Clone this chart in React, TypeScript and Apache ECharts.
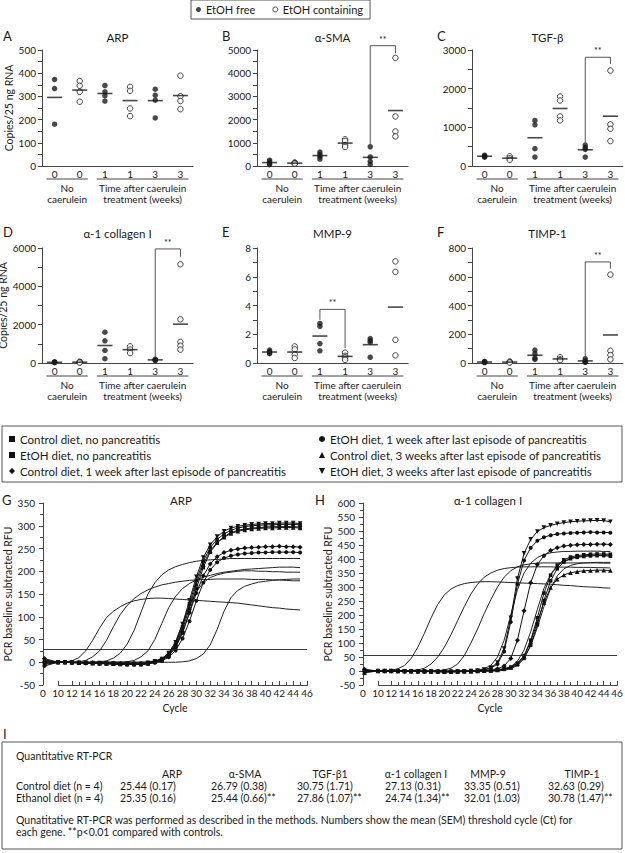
import React, { useEffect, useRef } from 'react';
import * as echarts from 'echarts';

const FONT = 'Lato, "Noto Sans", "DejaVu Sans", sans-serif';
const INK = '#1a1a1a';
const AXIS = '#444';

// ---------- Panels A–F (scatter of copies / 25 ng RNA) ----------
const WEEK_LABELS = ['0', '0', '1', '1', '3', '3'];
const PANEL_LETTERS = ['A', 'B', 'C', 'D', 'E', 'F'];
const PANEL_TITLES = ['ARP', 'α-SMA', 'TGF-β', 'α-1 collagen I', 'MMP-9', 'TIMP-1'];
const PANEL_MAX = [500, 5000, 3000, 6000, 8, 800];
const PANEL_STEP = [100, 1000, 1000, 2000, 2, 200];
const GROUP_SPANS: [number, number, string, string][] = [
  [0, 1, 'No', 'caerulein'],
  [2, 5, 'Time after caerulein', 'treatment (weeks)'],
];

// values per week group (0, 1, 3 weeks)
const ARP_FREE = [[373, 334, 180], [347, 320, 303, 280], [331, 305, 284, 207]];
const ARP_ETOH = [[366, 346, 320, 277], [341, 324, 248, 215], [389, 301, 280, 245]];
const SMA_FREE = [[250, 180, 100, 60], [600, 500, 400, 300], [830, 390, 200, 70]];
const SMA_ETOH = [[150, 130, 110, 100], [1150, 1080, 900, 820], [4660, 2135, 1490, 1275]];
const TGF_FREE = [[280, 260, 240, 230], [1178, 1066, 447, 232], [540, 480, 430, 230]];
const TGF_ETOH = [[250, 200, 160], [1797, 1694, 1281, 1178], [2468, 1075, 963, 645]];
const COL_FREE = [[60, 40, 30, 20], [1609, 1159, 657, 225], [200, 170, 150, 130]];
const COL_ETOH = [[70, 40, 20], [870, 700, 520], [5150, 2280, 1100, 900, 700]];
const MMP_FREE = [[0.9, 0.8, 0.7, 0.65], [2.75, 2.55, 1.35, 0.85], [1.7, 1.55, 1.45, 0.4]];
const MMP_ETOH = [[1.15, 0.95, 0.6, 0.35], [0.72, 0.5, 0.4, 0.22], [7.07, 6.34, 1.61, 0.53]];
const TIMP_FREE = [[12, 8, 5, 3], [90, 65, 35, 25], [30, 15, 8, 5]];
const TIMP_ETOH = [[10, 6, 3], [40, 25, 20], [615, 85, 55, 25]];

const PANEL_FREE = [ARP_FREE, SMA_FREE, TGF_FREE, COL_FREE, MMP_FREE, TIMP_FREE];
const PANEL_ETOH = [ARP_ETOH, SMA_ETOH, TGF_ETOH, COL_ETOH, MMP_ETOH, TIMP_ETOH];

// significance brackets: [fromCat, toCat, top, leftFoot, rightFoot]
const BRACKETS: (number[] | null)[] = [
  null,
  [4, 5, 5186, 890, 4860],
  [4, 5, 2812, 576, 2640],
  [4, 5, 5952, 260, 5536],
  [2, 3, 3.73, 3.0, 1.04],
  [4, 5, 703, 46, 657],
];

// ---------- Panels G, H (real-time PCR curves) ----------
const CYCLES = [1, 10, 11, 12, 13, 14, 15, 16, 17, 18, 19, 20, 21, 22, 23, 24, 25, 26, 27, 28, 29, 30, 31, 32, 33, 34, 35, 36, 37, 38, 39, 40, 41, 42, 43, 44, 45];

const GROUP_NAMES = [
  'Control diet, no pancreatitis',
  'EtOH diet, no pancreatitis',
  'Control diet, 1 week after last episode of pancreatitis',
  'EtOH diet, 1 week after last episode of pancreatitis',
  'Control diet, 3 weeks after last episode of pancreatitis',
  'EtOH diet, 3 weeks after last episode of pancreatitis',
];
const GROUP_SYMBOLS = ['rect', 'rect', 'diamond', 'circle', 'triangle', 'triangle'];
const GROUP_ROTATE = [0, 0, 0, 0, 0, 180];
const GROUP_SIZE = [3.6, 3.6, 5, 4, 4.6, 4.6];
const GROUP_ICONS = ['rect', 'rect', 'diamond', 'circle', 'triangle', 'path://M0,0L10,0L5,10Z'];

const G_CTRL_NONE = [5, 0, 0, 0, -1, -1, -2, -2, -3, -3, -4, -4, -4, -4, -2, 1, 6, 18, 40, 78, 128, 180, 222, 252, 270, 282, 290, 295, 298, 300, 301, 302, 302, 303, 303, 303, 302];
const G_ETOH_NONE = [-5, 0, 0, -1, -1, -2, -2, -3, -3, -4, -5, -5, -5, -5, -3, 0, 4, 14, 32, 64, 110, 162, 208, 242, 262, 276, 285, 290, 293, 295, 296, 297, 298, 298, 298, 298, 297];
const G_CTRL_1WK = [8, 0, 0, 0, -1, -1, -1, -2, -2, -3, -3, -3, -3, -3, -1, 2, 7, 17, 36, 66, 108, 152, 190, 216, 232, 241, 246, 249, 251, 252, 253, 254, 254, 255, 254, 254, 253];
const G_ETOH_1WK = [-8, 0, 0, -1, -1, -2, -2, -3, -3, -4, -4, -5, -5, -5, -4, -1, 3, 11, 26, 52, 90, 135, 175, 203, 220, 229, 234, 237, 239, 240, 241, 241, 242, 242, 242, 242, 241];
const G_CTRL_3WK = [3, 0, 0, 0, -1, -1, -2, -2, -2, -3, -3, -4, -4, -4, -2, 1, 5, 16, 37, 72, 120, 172, 215, 245, 263, 275, 283, 288, 291, 293, 294, 295, 295, 296, 296, 296, 295];
const G_ETOH_3WK = [-3, 0, 0, -1, -1, -1, -2, -2, -3, -3, -4, -4, -4, -4, -1, 2, 7, 20, 44, 84, 136, 188, 230, 258, 276, 288, 295, 299, 301, 303, 304, 305, 305, 306, 306, 306, 305];

const G_STD1 = [0, 0, 1, 3, 10, 25, 48, 75, 98, 112, 122, 130, 135, 138, 140, 141, 141, 140, 139, 138, 137, 136, 135, 134, 133, 132, 131, 130, 128, 126, 124, 122, 120, 119, 117, 116, 115];
const G_STD2 = [0, 0, 0, 0, 1, 4, 12, 25, 48, 78, 105, 125, 140, 151, 159, 165, 170, 173, 176, 178, 180, 181, 182, 182, 183, 183, 183, 183, 183, 182, 182, 182, 181, 181, 180, 179, 179];
const G_STD3 = [0, 0, 0, 0, 0, 0, 0, 1, 3, 9, 20, 40, 70, 110, 150, 175, 192, 203, 210, 215, 219, 222, 224, 225, 226, 227, 228, 228, 228, 228, 228, 228, 228, 228, 228, 228, 228];
const G_STD4 = [0, 0, 0, 0, 0, 0, 0, 0, 0, 0, 0, 1, 4, 12, 25, 50, 85, 120, 145, 162, 173, 181, 187, 191, 195, 198, 200, 202, 204, 205, 206, 207, 208, 209, 209, 209, 208];
const G_STD5 = [0, 0, 0, 0, 0, 0, 0, 0, 0, 0, 0, 0, 0, 0, 1, 3, 8, 20, 45, 85, 125, 155, 175, 186, 192, 196, 198, 200, 201, 201, 200, 200, 199, 199, 198, 198, 198];
const G_STD6 = [0, 0, 0, 0, 0, 0, 0, 0, 0, 0, 0, 0, 0, 0, 0, 0, 0, 0, 0, 1, 3, 8, 18, 38, 72, 112, 142, 158, 167, 172, 176, 178, 180, 181, 182, 183, 183];

const H_CTRL_NONE = [2, 0, 0, 0, 0, 0, -1, -1, -1, -1, -2, -2, -2, -2, -1, -1, 0, 1, 2, 4, 8, 14, 28, 55, 110, 190, 278, 342, 378, 397, 407, 412, 415, 417, 418, 418, 417];
const H_ETOH_NONE = [-4, 0, 0, 0, -1, -1, -1, -2, -2, -2, -2, -3, -3, -3, -2, -2, -1, 0, 1, 3, 6, 11, 22, 45, 92, 165, 252, 322, 365, 389, 401, 406, 409, 411, 412, 412, 410];
const H_CTRL_1WK = [6, 0, 0, 0, 0, -1, -1, -1, -2, -2, -2, -2, -2, -1, -1, 0, 1, 2, 4, 8, 18, 45, 110, 215, 315, 380, 412, 430, 440, 446, 449, 451, 452, 452, 453, 453, 452];
const H_ETOH_1WK = [4, 0, 0, 0, -1, -1, -1, -2, -2, -2, -2, -3, -3, -2, -1, 0, 1, 4, 10, 25, 70, 175, 310, 395, 440, 465, 478, 485, 489, 491, 493, 494, 495, 496, 495, 495, 494];
const H_CTRL_3WK = [-6, 0, 0, 0, 0, -1, -1, -1, -1, -2, -2, -2, -2, -2, -1, -1, 0, 1, 2, 4, 8, 14, 26, 52, 105, 175, 245, 298, 328, 343, 351, 355, 358, 359, 360, 360, 359];
const H_ETOH_3WK = [-3, 0, 0, 0, -1, -1, -1, -2, -2, -2, -3, -3, -3, -2, -2, 0, 2, 5, 12, 30, 80, 190, 330, 420, 470, 498, 512, 520, 526, 530, 533, 535, 536, 537, 538, 537, 533];

const H_STD1 = [0, 0, 1, 3, 8, 20, 45, 85, 135, 190, 238, 272, 293, 305, 312, 316, 318, 319, 319, 318, 317, 316, 315, 314, 313, 312, 311, 310, 308, 306, 305, 303, 301, 300, 299, 297, 296];
const H_STD2 = [0, 0, 0, 0, 0, 0, 1, 4, 10, 25, 50, 85, 130, 180, 230, 275, 310, 335, 350, 360, 366, 369, 371, 372, 372, 372, 372, 372, 371, 371, 371, 370, 370, 370, 369, 369, 368];
const H_STD3 = [0, 0, 0, 0, 0, 0, 0, 0, 0, 0, 1, 4, 10, 25, 55, 100, 150, 205, 255, 300, 335, 358, 372, 379, 383, 385, 386, 386, 386, 386, 386, 386, 386, 386, 386, 385, 385];
const H_STD4 = [0, 0, 0, 0, 0, 0, 0, 0, 0, 0, 0, 0, 0, 0, 0, 1, 3, 8, 20, 50, 110, 200, 290, 350, 385, 405, 416, 422, 425, 427, 427, 428, 428, 428, 428, 427, 427];
const H_STD5 = [0, 0, 0, 0, 0, 0, 0, 0, 0, 0, 0, 0, 0, 0, 0, 0, 0, 0, 0, 2, 6, 15, 35, 75, 140, 220, 295, 345, 375, 392, 402, 408, 411, 413, 414, 414, 414];
const H_STD6 = [0, 0, 0, 0, 0, 0, 0, 0, 0, 0, 0, 0, 0, 0, 0, 0, 0, 0, 0, 0, 3, 8, 20, 45, 90, 155, 230, 295, 340, 365, 377, 383, 386, 387, 388, 388, 388];

const G_MARKED = [G_CTRL_NONE, G_ETOH_NONE, G_CTRL_1WK, G_ETOH_1WK, G_CTRL_3WK, G_ETOH_3WK];
const G_PLAIN = [G_STD1, G_STD2, G_STD3, G_STD4, G_STD5, G_STD6];
const H_MARKED = [H_CTRL_NONE, H_ETOH_NONE, H_CTRL_1WK, H_ETOH_1WK, H_CTRL_3WK, H_ETOH_3WK];
const H_PLAIN = [H_STD1, H_STD2, H_STD3, H_STD4, H_STD5, H_STD6];
const THRESHOLD = [28, 55];
const PCR_TITLES = ['ARP', 'α-1 collagen I'];
const PCR_LETTERS = ['G', 'H'];
const PCR_YMAX = [350, 600];

// ---------- Table I ----------
const GENES = ['ARP', 'α-SMA', 'TGF-β1', 'α-1 collagen I', 'MMP-9', 'TIMP-1'];
const CONTROL_CT = [25.44, 26.79, 30.75, 27.13, 33.35, 32.63];
const CONTROL_SEM = [0.17, 0.38, 1.71, 0.31, 0.51, 0.29];
const ETHANOL_CT = [25.35, 25.44, 27.86, 24.74, 32.01, 30.78];
const ETHANOL_SEM = [0.16, 0.66, 1.07, 1.34, 1.03, 1.47];
const ETHANOL_SIG = [false, true, true, true, false, true];

// ---------- layout ----------
const COL_LEFT = [42, 257, 472];
const ROW_TOP = [50, 248];
const ROW_H = [116, 115];
const PANEL_W = 151;
const LETTER_X = [3, 222, 437];
const TITLE_Y = [37, 233];
const PCR_GRID = [
  { left: 43, top: 503, width: 264, height: 182 },
  { left: 363, top: 503, width: 254, height: 182 },
];
const PCR_GAP = ['5.7%', '5.9%'];
const TABLE_VAL_X = [120, 211, 297, 385, 464, 548];
const TABLE_HEAD_X = [172, 245, 330, 416, 488, 582];

const mean = (a: number[]) => a.reduce((s, v) => s + v, 0) / a.length;
const plain = (v: number) => String(v);

function bracketRender(_params: any, api: any) {
  const x1 = api.value(0), x2 = api.value(1);
  const yt = api.value(2), yl = api.value(3), yr = api.value(4);
  const a = api.coord([x1, yl]);
  const b = api.coord([x1, yt]);
  const c = api.coord([x2, yt]);
  const d = api.coord([x2, yr]);
  return {
    type: 'group',
    children: [
      { type: 'polyline', shape: { points: [a, b, c, d] }, style: { stroke: '#555', lineWidth: 1, fill: null } },
      {
        type: 'text', x: (b[0] + c[0]) / 2, y: b[1] - 2,
        style: { text: '**', font: `9px ${FONT}`, fill: INK, textAlign: 'center', textVerticalAlign: 'bottom' },
      },
    ],
  };
}

function buildOption() {
  const grid: any[] = [];
  const xAxis: any[] = [];
  const yAxis: any[] = [];
  const series: any[] = [];
  const lbl = { fontSize: 10, color: INK, fontFamily: FONT };

  for (let i = 0; i < 6; i++) {
    const col = i % 3, row = Math.floor(i / 3);
    grid.push({ left: COL_LEFT[col], top: ROW_TOP[row], width: PANEL_W, height: ROW_H[row], outerBoundsMode: 'none' });
    xAxis.push({
      type: 'category', gridIndex: i, data: WEEK_LABELS, boundaryGap: true,
      axisLine: { lineStyle: { color: AXIS, width: 1 } },
      axisTick: { show: false },
      axisLabel: { ...lbl, margin: 3, interval: 0 },
      splitLine: { show: false },
    });
    yAxis.push({
      type: 'value', gridIndex: i, min: 0, max: PANEL_MAX[i], interval: PANEL_STEP[i],
      axisLine: { show: true, lineStyle: { color: AXIS, width: 1 } },
      axisTick: { show: true, length: 4, lineStyle: { color: AXIS } },
      minorTick: { show: true, splitNumber: 2, length: 4, lineStyle: { color: AXIS } },
      splitLine: { show: false },
      axisLabel: { ...lbl, margin: 6, showMinLabel: true, showMaxLabel: true, formatter: plain },
      name: col === 0 ? 'Copies/25 ng RNA' : '',
      nameLocation: 'middle', nameGap: 24,
      nameTextStyle: { fontSize: 10.5, color: INK, fontFamily: FONT },
    });
    const free = PANEL_FREE[i], etoh = PANEL_ETOH[i];
    series.push({
      type: 'scatter', name: 'EtOH free', xAxisIndex: i, yAxisIndex: i,
      symbol: 'circle', symbolSize: 5.5, itemStyle: { color: INK },
      data: free.flatMap((g, k) => g.map((v) => [2 * k, v])), z: 3,
    });
    series.push({
      type: 'scatter', name: 'EtOH containing', xAxisIndex: i, yAxisIndex: i,
      symbol: 'circle', symbolSize: 5.5, itemStyle: { color: '#fff', borderColor: INK, borderWidth: 1 },
      data: etoh.flatMap((g, k) => g.map((v) => [2 * k + 1, v])), z: 3,
    });
    series.push({
      type: 'scatter', name: 'Mean', xAxisIndex: i, yAxisIndex: i, silent: true,
      symbol: 'rect', symbolSize: [15, 1.6], itemStyle: { color: INK },
      data: [...free.map((g, k) => [2 * k, mean(g)]), ...etoh.map((g, k) => [2 * k + 1, mean(g)])], z: 4,
    });
    const br = BRACKETS[i];
    if (br) {
      series.push({
        type: 'custom', name: 'p<0.01', xAxisIndex: i, yAxisIndex: i, clip: false, silent: true,
        encode: { x: [0, 1], y: [2, 3, 4] },
        renderItem: bracketRender, data: [br], z: 5,
      });
    }
  }

  for (let p = 0; p < 2; p++) {
    const gi = 6 + p;
    grid.push({ ...PCR_GRID[p], outerBoundsMode: 'none' });
    xAxis.push({
      type: 'value', gridIndex: gi, min: 0, max: 46, interval: 2,
      breaks: [{ start: 0, end: 10, gap: PCR_GAP[p] }],
      breakArea: { show: false },
      breakLabelLayout: { moveOverlap: false },
      axisLine: { show: true, onZero: false, lineStyle: { color: AXIS, width: 1 } },
      axisTick: { show: true, inside: true, length: 4, lineStyle: { color: AXIS } },
      minorTick: { show: true, splitNumber: 2, length: 3, lineStyle: { color: AXIS } },
      splitLine: { show: false },
      axisLabel: {
        ...lbl, margin: 3, showMinLabel: true, showMaxLabel: true, hideOverlap: false,
        formatter: (v: number) => (Number.isInteger(v) && v % 2 === 0 ? String(v) : ''),
      },
      name: 'Cycle', nameLocation: 'middle', nameGap: 17,
      nameTextStyle: { fontSize: 10.5, color: INK, fontFamily: FONT },
    });
    yAxis.push({
      type: 'value', gridIndex: gi, min: -50, max: PCR_YMAX[p], interval: 50,
      axisLine: { show: true, onZero: false, lineStyle: { color: AXIS, width: 1 } },
      axisTick: { show: true, length: 4, lineStyle: { color: AXIS } },
      minorTick: { show: true, splitNumber: 2, length: 3, lineStyle: { color: AXIS } },
      splitLine: { show: false },
      axisLabel: { ...lbl, margin: 8, showMinLabel: true, showMaxLabel: true, formatter: plain },
      name: 'PCR baseline subtracted RFU', nameLocation: 'middle', nameGap: p === 0 ? 30 : 28,
      nameTextStyle: { fontSize: 10.5, color: INK, fontFamily: FONT },
    });
    const plainCurves = p === 0 ? G_PLAIN : H_PLAIN;
    const marked = p === 0 ? G_MARKED : H_MARKED;
    plainCurves.forEach((vals, k) => {
      series.push({
        type: 'line', name: `Standard ${k + 1}`, xAxisIndex: gi, yAxisIndex: gi,
        symbol: 'none', smooth: false, silent: true,
        lineStyle: { color: '#222', width: 1 },
        data: CYCLES.map((c, j) => [c, vals[j]]), z: 2,
        markLine: k === 0 ? {
          silent: true, symbol: 'none', label: { show: false },
          lineStyle: { color: '#222', width: 0.9, type: 'solid' },
          data: [{ yAxis: THRESHOLD[p] }],
        } : undefined,
      });
    });
    marked.forEach((vals, k) => {
      series.push({
        type: 'line', name: GROUP_NAMES[k], xAxisIndex: gi, yAxisIndex: gi,
        symbol: GROUP_SYMBOLS[k], symbolRotate: GROUP_ROTATE[k], symbolSize: GROUP_SIZE[k],
        showSymbol: true, showAllSymbol: true,
        itemStyle: { color: '#111' }, lineStyle: { color: '#111', width: 1 },
        data: CYCLES.map((c, j) => [c, vals[j]]), z: 3,
      });
    });
  }

  const legendText = { fontSize: 11.5, color: INK, fontFamily: FONT, lineHeight: 14 };
  const legend = [
    {
      left: 191, top: 0, orient: 'horizontal', padding: [4, 7, 4, 5], itemGap: 17,
      itemWidth: 5, itemHeight: 5, borderColor: '#555', borderWidth: 1,
      textStyle: { fontSize: 11, color: INK, fontFamily: FONT },
      data: [
        { name: 'EtOH free', icon: 'circle', itemStyle: { color: INK } },
        { name: 'EtOH containing', icon: 'circle', itemStyle: { color: '#fff', borderColor: INK, borderWidth: 1 } },
      ],
    },
    {
      left: 9, top: 432, orient: 'vertical', itemGap: 2, itemWidth: 6, itemHeight: 6, padding: 0,
      textStyle: legendText,
      data: [0, 1, 2].map((k) => ({ name: GROUP_NAMES[k], icon: GROUP_ICONS[k], itemStyle: { color: '#111' } })),
    },
    {
      left: 319, top: 432, orient: 'vertical', itemGap: 2, itemWidth: 6, itemHeight: 6, padding: 0,
      textStyle: legendText,
      data: [3, 4, 5].map((k) => ({ name: GROUP_NAMES[k], icon: GROUP_ICONS[k], itemStyle: { color: '#111' } })),
    },
  ];

  return {
    animation: false,
    backgroundColor: '#fff',
    textStyle: { fontFamily: FONT },
    grid, xAxis, yAxis, series, legend,
  };
}

function buildGraphics(chart: any) {
  const els: any[] = [];
  const txt = (text: string, x: number, y: number, size: number, align = 'center', vAlign = 'middle') => ({
    type: 'text', x, y, silent: true,
    style: { text, font: `${size}px ${FONT}`, fill: INK, textAlign: align, textVerticalAlign: vAlign },
  });

  for (let i = 0; i < 6; i++) {
    const col = i % 3, row = Math.floor(i / 3);
    els.push(txt(PANEL_LETTERS[i], LETTER_X[col], TITLE_Y[row] - 1, 13, 'left'));
    els.push(txt(PANEL_TITLES[i], COL_LEFT[col] + PANEL_W / 2, TITLE_Y[row], 11.5));
    const px = (k: number) => chart.convertToPixel({ xAxisIndex: i }, k) as number;
    const base = chart.convertToPixel({ yAxisIndex: i }, 0) as number;
    const bw = px(1) - px(0);
    GROUP_SPANS.forEach(([a, b, l1, l2]) => {
      const xa = px(a) - 0.32 * bw, xb = px(b) + 0.32 * bw;
      els.push({ type: 'line', silent: true, shape: { x1: xa, y1: base + 13, x2: xb, y2: base + 13 }, style: { stroke: AXIS, lineWidth: 1 } });
      els.push(txt(l1, (xa + xb) / 2, base + 21.5, 10));
      els.push(txt(l2, (xa + xb) / 2, base + 33, 10));
    });
  }

  // main legend frame
  els.push({ type: 'rect', silent: true, shape: { x: 2, y: 426, width: 620, height: 56 }, style: { fill: 'transparent', stroke: '#555', lineWidth: 1 } });

  for (let p = 0; p < 2; p++) {
    const g = PCR_GRID[p];
    els.push(txt(PCR_LETTERS[p], p === 0 ? 2 : 315, 500, 13, 'left'));
    els.push(txt(PCR_TITLES[p], g.left + g.width / 2 + (p === 0 ? 6 : -2), 500, 11.5));
  }

  // table I
  els.push(txt('I', 3, 734, 13, 'left'));
  els.push({ type: 'rect', silent: true, shape: { x: 2, y: 742, width: 620, height: 107 }, style: { fill: 'transparent', stroke: '#555', lineWidth: 1 } });
  const T = 10.5;
  els.push(txt('Quantitative RT-PCR', 16, 756, T, 'left'));
  GENES.forEach((g, k) => els.push(txt(g, TABLE_HEAD_X[k], 774, T)));
  els.push(txt('Control diet (n = 4)', 16, 786, T, 'left'));
  els.push(txt('Ethanol diet (n = 4)', 16, 798, T, 'left'));
  CONTROL_CT.forEach((v, k) => els.push(txt(`${v.toFixed(2)} (${CONTROL_SEM[k].toFixed(2)})`, TABLE_VAL_X[k], 786, T, 'left')));
  ETHANOL_CT.forEach((v, k) => els.push(txt(`${v.toFixed(2)} (${ETHANOL_SEM[k].toFixed(2)})${ETHANOL_SIG[k] ? '**' : ''}`, TABLE_VAL_X[k], 798, T, 'left')));
  els.push(txt('Qunatitative RT-PCR was performed as described in the methods. Numbers show the mean (SEM) threshold cycle (Ct) for', 16, 820, T, 'left'));
  els.push(txt('each gene. **p<0.01 compared with controls.', 16, 832, T, 'left'));

  return { elements: els };
}

export default function App() {
  const ref = useRef<HTMLDivElement>(null);
  useEffect(() => {
    const el = ref.current;
    if (!el) return;
    const chart = echarts.init(el, null, { renderer: 'svg' });
    chart.setOption(buildOption() as any);
    chart.setOption({ graphic: buildGraphics(chart) } as any);
    return () => chart.dispose();
  }, []);
  return (
    <div
      ref={ref}
      style={{ position: 'fixed', left: 0, top: 0, width: 625, height: 853, background: '#fff' }}
    />
  );
}
